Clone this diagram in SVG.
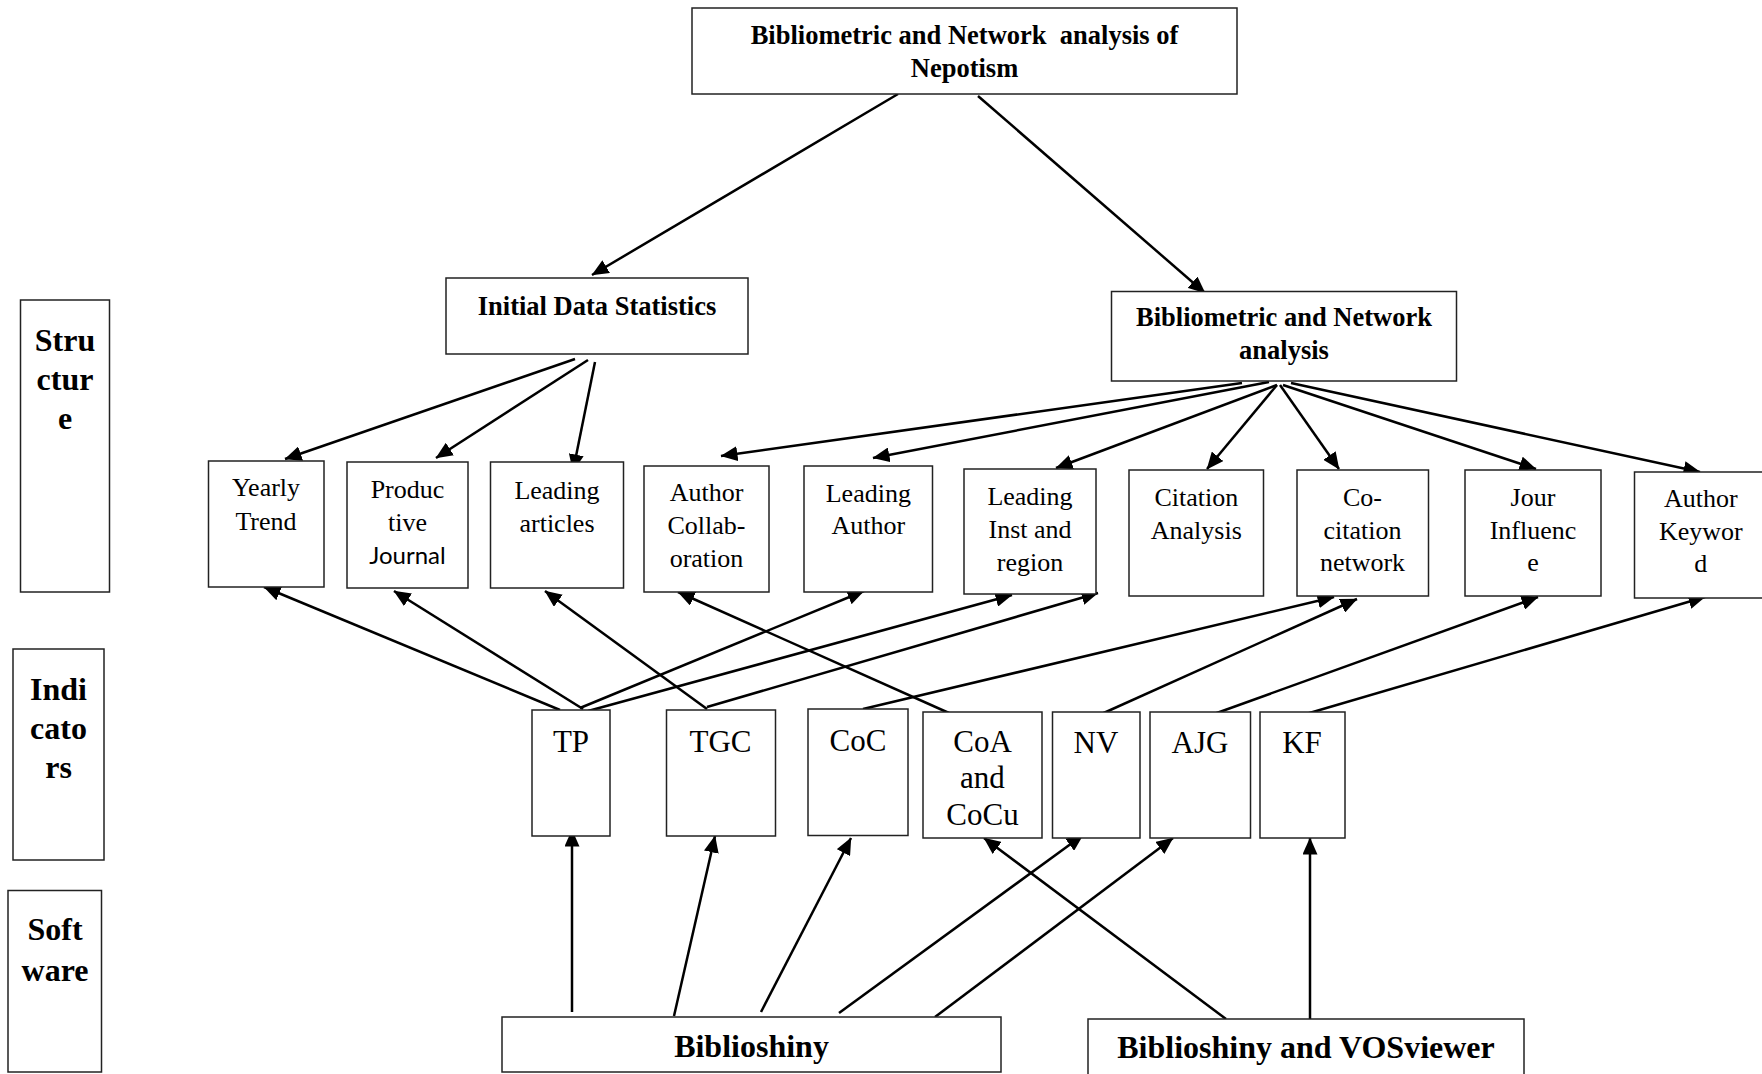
<svg xmlns="http://www.w3.org/2000/svg" width="1762" height="1074" viewBox="0 0 1762 1074">
<defs>
<marker id="ah" markerUnits="userSpaceOnUse" markerWidth="17" markerHeight="15" viewBox="0 0 17 15" refX="16.5" refY="7.5" orient="auto">
<path d="M0,0 L17,7.5 L0,15 z" fill="#000"/>
</marker>
</defs>
<style>
rect{fill:#fff;stroke:#222;stroke-width:1.5}
text{font-family:"Liberation Serif","Times New Roman",serif;fill:#000;text-anchor:middle}
.b{font-weight:bold;font-size:26.5px}
.lab{font-weight:bold;font-size:32px}
.m{font-size:26px}
.ind{font-size:31px}
.sw{font-weight:bold;font-size:32px}
.sans{font-family:Lato,"Liberation Sans",sans-serif;font-size:24px}
#connectors line{stroke:#000;stroke-width:2.5;marker-end:url(#ah)}
</style>
<rect x="0" y="0" width="1762" height="1074" style="fill:#fff;stroke:none"/>

<g id="connectors">
<line x1="898" y1="94" x2="592" y2="275"/>
<line x1="978" y1="96" x2="1205" y2="293"/>
<line x1="575" y1="359" x2="285" y2="459"/>
<line x1="588" y1="360" x2="436" y2="458"/>
<line x1="595" y1="362" x2="573" y2="471"/>
<line x1="1242" y1="383" x2="721" y2="456"/>
<line x1="1269" y1="382" x2="873" y2="458"/>
<line x1="1277" y1="385" x2="1056" y2="468"/>
<line x1="1277" y1="385" x2="1207" y2="469"/>
<line x1="1280" y1="385" x2="1339" y2="469"/>
<line x1="1283" y1="385" x2="1536" y2="469"/>
<line x1="1291" y1="383" x2="1700" y2="472"/>
<line x1="560" y1="710" x2="264" y2="587"/>
<line x1="583" y1="709" x2="394" y2="591"/>
<line x1="707" y1="709" x2="545" y2="591"/>
<line x1="949" y1="713" x2="678" y2="592"/>
<line x1="580" y1="708" x2="864" y2="591"/>
<line x1="588" y1="711" x2="1012" y2="595"/>
<line x1="707" y1="707" x2="1098" y2="593"/>
<line x1="863" y1="709" x2="1334" y2="597"/>
<line x1="1097" y1="716" x2="1357" y2="599"/>
<line x1="1214" y1="714" x2="1538" y2="597"/>
<line x1="1306" y1="714" x2="1705" y2="597"/>
<line x1="572" y1="1012" x2="572" y2="830"/>
<line x1="674" y1="1016" x2="715" y2="836"/>
<line x1="761" y1="1012" x2="851" y2="838"/>
<line x1="839" y1="1013" x2="1083" y2="835"/>
<line x1="935" y1="1017" x2="1173" y2="838"/>
<line x1="1226" y1="1019" x2="984" y2="838"/>
<line x1="1310" y1="1019" x2="1310" y2="838"/>
</g>

<g id="n-top"><rect x="692" y="8" width="545" height="86"/>
<text class="b" x="964.5" y="44" xml:space="preserve">Bibliometric and Network  analysis of</text>
<text class="b" x="964.5" y="76.5">Nepotism</text></g>
<g id="n-initial"><rect x="446" y="278" width="302" height="76"/>
<text class="b" x="597" y="314.5">Initial Data Statistics</text></g>
<g id="n-bibnet"><rect x="1111.5" y="291.5" width="345" height="89.5"/>
<text class="b" x="1284" y="326">Bibliometric and Network</text>
<text class="b" x="1284" y="359">analysis</text></g>

<g id="n-structure"><rect x="20.5" y="300" width="89" height="292"/>
<text class="lab" x="65" y="351">Stru</text><text class="lab" x="65" y="390">ctur</text><text class="lab" x="65" y="429">e</text></g>
<g id="n-indicators"><rect x="13" y="649" width="91" height="211"/>
<text class="lab" x="58.5" y="700">Indi</text><text class="lab" x="58.5" y="739">cato</text><text class="lab" x="58.5" y="778">rs</text></g>
<g id="n-software"><rect x="8" y="890.5" width="93.5" height="181.5"/>
<text class="lab" x="55" y="940">Soft</text><text class="lab" x="55" y="980.5">ware</text></g>

<g id="n-yearly"><rect x="208.5" y="461" width="115.5" height="126"/>
<text class="m" x="266" y="496">Yearly</text><text class="m" x="266" y="530">Trend</text></g>
<g id="n-productive"><rect x="347" y="462" width="121" height="126"/>
<text class="m" x="407.5" y="498">Produc</text><text class="m" x="407.5" y="531">tive</text><text class="sans" x="407.5" y="564">Journal</text></g>
<g id="n-leadart"><rect x="490.5" y="462" width="133" height="126"/>
<text class="m" x="557" y="498.5">Leading</text><text class="m" x="557" y="531.5">articles</text></g>
<g id="n-authcollab"><rect x="644" y="466" width="125" height="126"/>
<text class="m" x="706.5" y="501">Author</text><text class="m" x="706.5" y="534">Collab-</text><text class="m" x="706.5" y="566.5">oration</text></g>
<g id="n-leadauth"><rect x="804" y="466" width="128.5" height="126"/>
<text class="m" x="868.3" y="501.5">Leading</text><text class="m" x="868.3" y="534">Author</text></g>
<g id="n-leadinst"><rect x="964" y="469" width="132" height="125"/>
<text class="m" x="1030" y="504.5">Leading</text><text class="m" x="1030" y="537.5">Inst and</text><text class="m" x="1030" y="570.5">region</text></g>
<g id="n-citation"><rect x="1129" y="470" width="134.5" height="126"/>
<text class="m" x="1196.3" y="506">Citation</text><text class="m" x="1196.3" y="538.5">Analysis</text></g>
<g id="n-cocit"><rect x="1297" y="470" width="131.5" height="126"/>
<text class="m" x="1362.5" y="506">Co-</text><text class="m" x="1362.5" y="538.5">citation</text><text class="m" x="1362.5" y="571">network</text></g>
<g id="n-jour"><rect x="1465" y="470" width="136" height="126"/>
<text class="m" x="1533" y="506">Jour</text><text class="m" x="1533" y="538.5">Influenc</text><text class="m" x="1533" y="571">e</text></g>
<g id="n-authkw"><rect x="1634.5" y="472" width="140" height="126"/>
<text class="m" x="1700.8" y="506.5">Author</text><text class="m" x="1700.8" y="539.5">Keywor</text><text class="m" x="1700.8" y="571.5">d</text></g>

<g id="n-tp"><rect x="532" y="710" width="78" height="126"/><text class="ind" x="571" y="751.5">TP</text></g>
<g id="n-tgc"><rect x="666.5" y="710" width="109" height="126"/><text class="ind" x="720.5" y="751.5">TGC</text></g>
<g id="n-coc"><rect x="808" y="709" width="100" height="126.5"/><text class="ind" x="858" y="751">CoC</text></g>
<g id="n-coa"><rect x="923" y="712" width="119" height="126"/>
<text class="ind" x="982.5" y="751.5">CoA</text><text class="ind" x="982.5" y="788">and</text><text class="ind" x="982.5" y="824.5">CoCu</text></g>
<g id="n-nv"><rect x="1052.5" y="712" width="87.5" height="126"/><text class="ind" x="1096" y="753">NV</text></g>
<g id="n-ajg"><rect x="1150" y="712" width="100.5" height="126"/><text class="ind" x="1200" y="753">AJG</text></g>
<g id="n-kf"><rect x="1260" y="712" width="85" height="126"/><text class="ind" x="1302" y="753">KF</text></g>

<g id="n-biblioshiny"><rect x="502" y="1017" width="499" height="55"/><text class="sw" x="751.5" y="1056.5">Biblioshiny</text></g>
<g id="n-bibvos"><rect x="1088" y="1019" width="436" height="70"/><text class="sw" x="1306" y="1058">Biblioshiny and VOSviewer</text></g>
</svg>
